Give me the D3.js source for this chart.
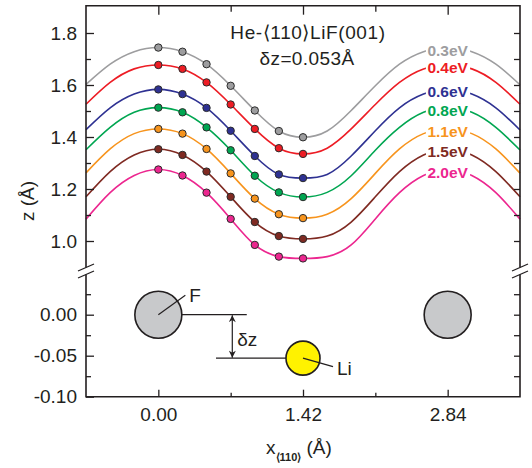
<!DOCTYPE html>
<html>
<head>
<meta charset="utf-8">
<script src="https://cdn.jsdelivr.net/npm/d3@7/dist/d3.min.js"></script>
<style>
body { margin: 0; background: #fff; }
text { font-family: "Liberation Sans", Arial, Helvetica, sans-serif; fill: #231f20; }
</style>
</head>
<body>
<div class="chart"></div>
<script>
// energies of the He beam, one curve each
var energies = ["0.3eV", "0.4eV", "0.6eV", "0.8eV", "1.1eV", "1.5eV", "2.0eV"];

// x positions of the computed points, and of the fitted curve samples
var xDots = [0, 0.237, 0.473, 0.71, 0.947, 1.183, 1.42];
var xFit = [-0.71, -0.473, -0.237, 0, 0.237, 0.473, 0.71, 0.947, 1.183, 1.42,
            1.657, 1.893, 2.13, 2.367, 2.603, 2.84, 3.077, 3.313, 3.55];

// computed turning points z (A)
var dots03 = [1.744, 1.728, 1.680, 1.597, 1.502, 1.423, 1.399];
var dots04 = [1.677, 1.662, 1.610, 1.525, 1.431, 1.357, 1.335];
var dots06 = [1.583, 1.565, 1.512, 1.424, 1.327, 1.256, 1.242];
var dots08 = [1.513, 1.495, 1.437, 1.349, 1.251, 1.187, 1.169];
var dots11 = [1.431, 1.413, 1.354, 1.260, 1.163, 1.103, 1.088];
var dots15 = [1.353, 1.331, 1.267, 1.170, 1.073, 1.019, 1.008];
var dots20 = [1.275, 1.252, 1.186, 1.085, 0.985, 0.940, 0.933];

// fitted curves read along the whole window
var fit03 = [1.602, 1.680, 1.728, 1.744, 1.728, 1.680, 1.597, 1.502, 1.423, 1.399, 1.423, 1.502, 1.597, 1.680, 1.728, 1.744, 1.728, 1.680, 1.601];
var fit04 = [1.526, 1.610, 1.662, 1.677, 1.662, 1.610, 1.525, 1.431, 1.357, 1.335, 1.357, 1.431, 1.525, 1.610, 1.662, 1.677, 1.662, 1.610, 1.526];
var fit06 = [1.428, 1.512, 1.565, 1.583, 1.565, 1.512, 1.424, 1.327, 1.256, 1.242, 1.256, 1.327, 1.424, 1.512, 1.565, 1.583, 1.565, 1.512, 1.427];
var fit08 = [1.351, 1.437, 1.495, 1.513, 1.495, 1.437, 1.349, 1.251, 1.187, 1.169, 1.187, 1.251, 1.349, 1.437, 1.495, 1.513, 1.495, 1.437, 1.350];
var fit11 = [1.262, 1.354, 1.413, 1.431, 1.413, 1.354, 1.260, 1.163, 1.103, 1.088, 1.103, 1.163, 1.260, 1.354, 1.413, 1.431, 1.413, 1.354, 1.261];
var fit15 = [1.170, 1.267, 1.331, 1.353, 1.331, 1.267, 1.170, 1.073, 1.019, 1.008, 1.019, 1.073, 1.170, 1.267, 1.331, 1.353, 1.331, 1.267, 1.170];
var fit20 = [1.084, 1.186, 1.252, 1.275, 1.252, 1.186, 1.085, 0.985, 0.940, 0.933, 0.940, 0.985, 1.085, 1.186, 1.252, 1.275, 1.252, 1.186, 1.084];

// ions of the surface row (lower panel)
var ionX = [0, 1.42, 2.84];
var ionZ = [0, -0.053, 0];
var ionNames = ["F", "Li", ""];

// ticks
var upTicks = [1.0, 1.2, 1.4, 1.6, 1.8];
var upTickLabels = ["1.0", "1.2", "1.4", "1.6", "1.8"];
var upMinor = [1.1, 1.3, 1.5, 1.7];
var upRight = [1.0, 1.1, 1.2, 1.3, 1.4, 1.5, 1.6, 1.7, 1.8];
var loTicks = [0, -0.05, -0.1];
var loTickLabels = ["0.00", "-0.05", "-0.10"];
var loMinor = [0.025, -0.025, -0.075];
var loRight = [0.025, 0, -0.025, -0.05, -0.075];
var xTicks = [0, 1.42, 2.84];
var xTickLabels = ["0.00", "1.42", "2.84"];
var xMinor = [0.71, 2.13];

var colors = ["#9d9d9f", "#ed1c24", "#2e3192", "#00a651", "#f7941d", "#7f2a22", "#ec268f"];

var dotSets = [dots03, dots04, dots06, dots08, dots11, dots15, dots20];
var fitSets = [fit03, fit04, fit06, fit08, fit11, fit15, fit20];
var series = energies.map(function(e, i) {
  return {
    label: e,
    color: colors[i],
    dots: xDots.map(function(v, j) { return [v, dotSets[i][j]]; }),
    fit: xFit.map(function(v, j) { return [v, fitSets[i][j]]; })
  };
});

var svgWidth = 532;
var svgHeight = 468;
var pLeft = 86, pRight = 520, pTop = 5.7, pBottom = 396.7;
var ink = "#231f20";

var svg = d3.select(".chart")
  .append("svg")
  .attr("width", svgWidth)
  .attr("height", svgHeight);

var x = d3.scaleLinear().domain([-0.71, 3.55]).range([pLeft, pRight]);
var yUp = d3.scaleLinear().domain([0.9, 1.905]).range([267, pTop]);
var yLo = d3.scaleLinear().domain([-0.1, 0.05]).range([pBottom, 273.7]);

var breakA = 267.5, breakB = 274.5;

// fitted curves
var line = d3.line()
  .x(function(d) { return x(d[0]); })
  .y(function(d) { return yUp(d[1]); })
  .curve(d3.curveNatural);

var plot = svg.append("g");
plot.selectAll(".fit")
  .data(series)
  .enter()
  .append("path")
  .attr("class", "fit")
  .attr("d", function(d) { return line(d.fit); })
  .attr("fill", "none")
  .attr("stroke", function(d) { return d.color; })
  .attr("stroke-width", 1.6);

// curve labels sitting on the maxima at x = 2.84
var labels = plot.selectAll(".lab")
  .data(series)
  .enter()
  .append("g")
  .attr("class", "lab");
labels.append("rect").attr("fill", "#fff");
labels.append("text")
  .attr("x", x(2.84))
  .attr("y", function(d) { return yUp(d.fit[15][1]) + 8; })
  .attr("text-anchor", "middle")
  .attr("font-size", 15.5)
  .attr("font-weight", "bold")
  .style("fill", function(d) { return d.color; })
  .text(function(d) { return d.label; });
labels.each(function() {
  var g = d3.select(this);
  var b = g.select("text").node().getBBox();
  g.select("rect")
    .attr("x", b.x - 1.5).attr("y", b.y + 2)
    .attr("width", b.width + 3).attr("height", b.height - 4);
});

// points
series.forEach(function(s) {
  plot.append("g").selectAll("circle")
    .data(s.dots)
    .enter()
    .append("circle")
    .attr("cx", function(d) { return x(d[0]); })
    .attr("cy", function(d) { return yUp(d[1]); })
    .attr("r", 3.7)
    .attr("fill", s.color)
    .attr("stroke", "#2b2b2b")
    .attr("stroke-width", 1);
});

// title
svg.append("text")
  .attr("x", 308).attr("y", 39)
  .attr("text-anchor", "middle")
  .attr("font-size", 19)
  .attr("letter-spacing", 0.6)
  .text("He-\u27E8110\u27E9LiF(001)");
svg.append("text")
  .attr("x", 307).attr("y", 65)
  .attr("text-anchor", "middle")
  .attr("font-size", 19)
  .attr("letter-spacing", 0.4)
  .text("\u03B4z=0.053\u00C5");

// lower panel schematic
var lo = svg.append("g");
var defs = svg.append("defs");
defs.append("marker")
  .attr("id", "arr")
  .attr("viewBox", "0 0 10 10")
  .attr("refX", 10).attr("refY", 5)
  .attr("markerUnits", "userSpaceOnUse")
  .attr("markerWidth", 9).attr("markerHeight", 7)
  .attr("orient", "auto-start-reverse")
  .append("path")
  .attr("d", "M0,0L10,5L0,10L3,5Z")
  .attr("fill", ink);

// level lines and the dz arrow
lo.append("line")
  .attr("x1", x(ionX[0]) + 23.5).attr("x2", x(0.868))
  .attr("y1", yLo(ionZ[0])).attr("y2", yLo(ionZ[0]))
  .attr("stroke", ink).attr("stroke-width", 1.2);
lo.append("line")
  .attr("x1", x(0.566)).attr("x2", x(ionX[1]) - 17)
  .attr("y1", yLo(ionZ[1])).attr("y2", yLo(ionZ[1]))
  .attr("stroke", ink).attr("stroke-width", 1.2);
lo.append("line")
  .attr("x1", x(0.726)).attr("x2", x(0.726))
  .attr("y1", yLo(ionZ[0]) + 0.5).attr("y2", yLo(ionZ[1]) - 0.5)
  .attr("stroke", ink).attr("stroke-width", 1.2)
  .attr("marker-start", "url(#arr)")
  .attr("marker-end", "url(#arr)");
lo.append("text")
  .attr("x", x(0.726) + 5).attr("y", 346)
  .attr("font-size", 19)
  .text("\u03B4z");

lo.selectAll(".ion")
  .data(ionX)
  .enter()
  .append("circle")
  .attr("class", "ion")
  .attr("cx", function(d) { return x(d); })
  .attr("cy", function(d, i) { return yLo(ionZ[i]); })
  .attr("r", function(d, i) { return i == 1 ? 17 : 23.5; })
  .attr("fill", function(d, i) { return i == 1 ? "#fff200" : "#c8c9cb"; })
  .attr("stroke", ink)
  .attr("stroke-width", 1.6);

// leaders to the ion names
lo.append("line")
  .attr("x1", x(ionX[0])).attr("y1", yLo(ionZ[0]))
  .attr("x2", x(ionX[0]) + 27).attr("y2", yLo(ionZ[0]) - 19.5)
  .attr("stroke", ink).attr("stroke-width", 1.2);
lo.append("text")
  .attr("x", x(ionX[0]) + 31).attr("y", 301.5)
  .attr("font-size", 19)
  .text(ionNames[0]);
lo.append("line")
  .attr("x1", x(ionX[1])).attr("y1", yLo(ionZ[1]))
  .attr("x2", x(ionX[1]) + 30).attr("y2", yLo(ionZ[1]) + 8.5)
  .attr("stroke", ink).attr("stroke-width", 1.2);
lo.append("text")
  .attr("x", x(ionX[1]) + 34).attr("y", 375)
  .attr("font-size", 19)
  .text(ionNames[1]);

// axes: ticks point inward, frame drawn by hand for the break
function tickAxis(axis, transform) {
  var g = svg.append("g")
    .attr("transform", transform)
    .call(axis);
  g.select(".domain").remove();
  g.selectAll("line").attr("stroke", ink).attr("stroke-width", 1.3);
  g.selectAll("text")
    .attr("font-size", 19)
    .attr("font-family", "Liberation Sans, Arial, sans-serif")
    .style("fill", ink);
  return g;
}

tickAxis(d3.axisLeft(yUp).tickValues(upTicks).tickSize(-8).tickPadding(9)
  .tickFormat(function(d, i) { return upTickLabels[i]; }), "translate(" + pLeft + ",0)");
tickAxis(d3.axisLeft(yUp).tickValues(upMinor).tickSize(-5).tickFormat(""), "translate(" + pLeft + ",0)");
tickAxis(d3.axisLeft(yLo).tickValues(loTicks).tickSize(-8).tickPadding(9)
  .tickFormat(function(d, i) { return loTickLabels[i]; }), "translate(" + pLeft + ",0)");
tickAxis(d3.axisLeft(yLo).tickValues(loMinor).tickSize(-5).tickFormat(""), "translate(" + pLeft + ",0)");

tickAxis(d3.axisRight(yUp).tickValues(upRight).tickSize(-6).tickFormat(""), "translate(" + pRight + ",0)");
tickAxis(d3.axisRight(yLo).tickValues(loRight).tickSize(-6).tickFormat(""), "translate(" + pRight + ",0)");

tickAxis(d3.axisBottom(x).tickValues(xTicks).tickSize(-7).tickPadding(11)
  .tickFormat(function(d, i) { return xTickLabels[i]; }), "translate(0," + pBottom + ")");
tickAxis(d3.axisBottom(x).tickValues(xMinor).tickSize(-4).tickFormat(""), "translate(0," + pBottom + ")");
tickAxis(d3.axisTop(x).tickValues(xTicks).tickSize(-9).tickFormat(""), "translate(0," + pTop + ")");
tickAxis(d3.axisTop(x).tickValues(xMinor).tickSize(-6).tickFormat(""), "translate(0," + pTop + ")");

var frame = svg.append("g")
  .attr("stroke", ink)
  .attr("stroke-width", 1.6)
  .attr("fill", "none");
frame.append("path").attr("d",
  "M" + pLeft + "," + breakA + "V" + pTop + "H" + pRight + "V" + breakA +
  "M" + pLeft + "," + breakB + "V" + pBottom + "H" + pRight + "V" + breakB);

// break marks on both sides
[pLeft, pRight].forEach(function(ax) {
  [breakA, breakB].forEach(function(by) {
    frame.append("line")
      .attr("x1", ax - 8).attr("y1", by + 3.5)
      .attr("x2", ax + 8).attr("y2", by - 3.5)
      .attr("stroke-width", 1.3);
  });
});

// axis titles
svg.append("text")
  .attr("transform", "translate(34,201) rotate(-90)")
  .attr("text-anchor", "middle")
  .attr("font-size", 19)
  .text("z (\u00C5)");

var xt = svg.append("text")
  .attr("x", 266)
  .attr("y", 454)
  .attr("font-size", 19);
xt.append("tspan").text("x");
xt.append("tspan")
  .attr("dy", 7)
  .attr("font-size", 11)
  .attr("font-weight", "bold")
  .text("\u27E8110\u27E9");
xt.append("tspan")
  .attr("dy", -7)
  .text(" (\u00C5)");
</script>
</body>
</html>
